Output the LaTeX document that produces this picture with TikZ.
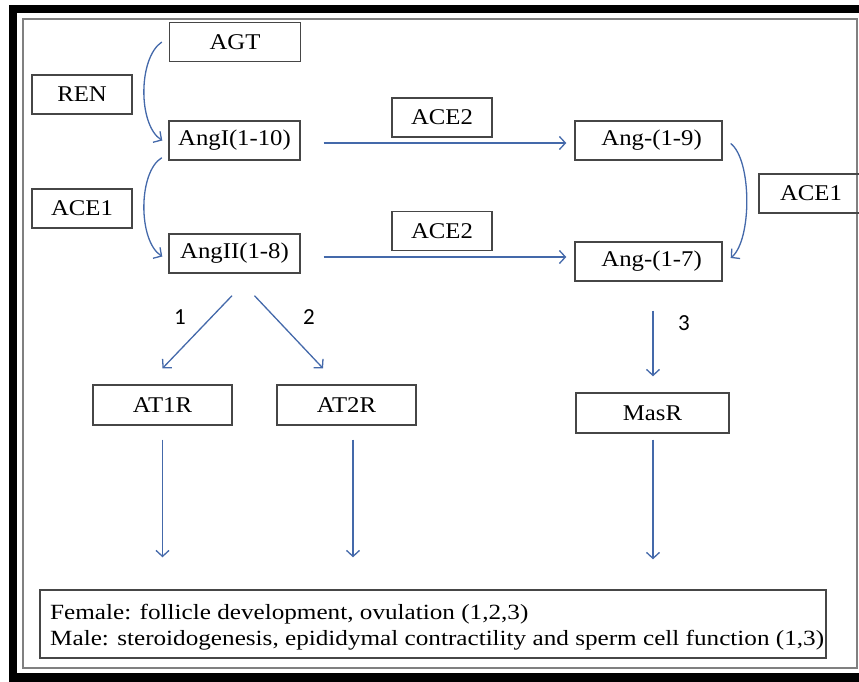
\documentclass[tikz,border=0pt]{standalone}
\usepackage{fontspec}
\setmainfont{Liberation Serif}
\newfontfamily\boxfont{Liberation Serif}[FakeStretch=1.1]
\newfontfamily\notefont{Liberation Serif}[FakeStretch=1.16]
\newfontfamily\numfont{Carlito}
\usepackage{tikz}
\usetikzlibrary{positioning}
\usetikzlibrary{arrows.meta}

\definecolor{arrowblue}{RGB}{68,105,170}
\definecolor{boxgray}{RGB}{70,70,70}

\tikzset{
  molbox/.style={draw=boxgray, line width=1.4pt, minimum height=39pt, inner sep=0pt,
    font=\boxfont\fontsize{22.5}{27}\selectfont},
  arr/.style={draw=arrowblue, line width=1.3pt, -{Straight Barb[length=6pt,width=13pt]}},
  numlab/.style={font=\numfont\fontsize{23}{27}\selectfont, inner sep=0pt}
}

\begin{document}
\begin{tikzpicture}[x=1pt,y=-1pt]

  \useasboundingbox (0,0) rectangle (859,682);

  % Draw frame
  \draw[line width=8.5pt] (13,9) rectangle (866,677.5);
  \draw[gray, line width=2pt] (22.5,19.5) rectangle (857,668);

  % Left column
  \node[molbox, minimum width=131pt] (agt)   at (235,42)    {AGT};
  \node[molbox, minimum width=100pt] (ren)   at (82,94.5)   {REN};
  \node[molbox, minimum width=131pt] (angI)  at (234.5,140.5) {AngI(1-10)};
  \node[molbox, minimum width=100pt] (aceL)  at (82,208.5)  {ACE1};
  \node[molbox, minimum width=131pt] (angII) at (234.5,253.5) {AngII(1-8)};

  % Middle and right column
  \node[molbox, minimum width=100pt] (aceTop) at (442,117.5) {ACE2};
  \node[molbox, minimum width=100pt] (aceBot) at (442,231)   {ACE2};
  \node[molbox, minimum width=147pt] (angN)   at (648.5,140.5) {\ Ang-(1-9)};
  \node[molbox, minimum width=147pt] (angS)   at (648.5,261.5) {\ Ang-(1-7)};
  \node[molbox, minimum width=104pt] (aceR)   at (811,193.5) {ACE1};

  % Receptors
  \node[molbox, minimum width=139pt, minimum height=40pt] (atI)  at (162.5,405) {AT1R};
  \node[molbox, minimum width=139pt, minimum height=40pt] (atII) at (346.5,405) {AT2R};
  \node[molbox, minimum width=153pt, minimum height=40pt] (masr) at (652.5,413) {MasR};

  % Effects box
  \node[draw=boxgray, line width=1.4pt, minimum width=786pt, minimum height=68pt,
    inner sep=0pt] (effect) at (433,624) {};
  \node[anchor=west, inner sep=0pt, align=left,
    font=\notefont\fontsize{21.7}{26}\selectfont] (effecttext) at (50,627)
    {Female: follicle development, ovulation (1,2,3)\\
     Male: steroidogenesis, epididymal contractility and sperm cell function (1,3)};

  % Curved arrows
  \draw[arr] ([xshift=-7pt]agt.west) .. controls (138,58) and (138,125) .. ([xshift=-6pt]angI.west);
  \draw[arr] ([xshift=-6.5pt,yshift=3pt]angI.south west) .. controls (138,172) and (138,241) .. ([xshift=-6pt,yshift=-3pt]angII.west);
  \draw[arr] ([xshift=8pt,yshift=-3pt]angN.east) .. controls (752,160) and (752,240) .. ([xshift=8pt,yshift=3.5pt]angS.east);

  % Straight arrows
  \draw[arr, shorten <=23pt, shorten >=8pt] ([yshift=-2.5pt]angI.east) -- ([yshift=-2.5pt]angN.west);
  \draw[arr, shorten <=23pt, shorten >=8pt] ([yshift=-3.5pt]angII.east) -- ([yshift=4.5pt]angS.west);
  \draw[arr] ([xshift=-2.5pt,yshift=-22pt]angII.south) -- ([yshift=16pt]atI.north);
  \draw[arr] ([xshift=20pt,yshift=-22pt]angII.south) -- ([xshift=-23.5pt,yshift=16pt]atII.north);
  \draw[arr] ([xshift=4.5pt,yshift=-29pt]angS.south) -- ([xshift=0.5pt,yshift=16pt]masr.north);

  % Arrows down to effects
  \draw[arr, shorten <=14pt, shorten >=32pt] (atI.south) -- (atI.south |- effect.north);
  \draw[arr, shorten <=14pt, shorten >=32pt] ([xshift=6.5pt]atII.south) -- ([xshift=6.5pt]atII.south |- effect.north);
  \draw[arr, shorten <=6pt, shorten >=30pt] ([xshift=0.5pt]masr.south) -- ([xshift=0.5pt]masr.south |- effect.north);

  % Path numbers
  \node[numlab] (lab1) at (180,317) {1};
  \node[numlab] (lab2) at (309,317) {2};
  \node[numlab] (lab3) at (684,323) {3};

\end{tikzpicture}
\end{document}
